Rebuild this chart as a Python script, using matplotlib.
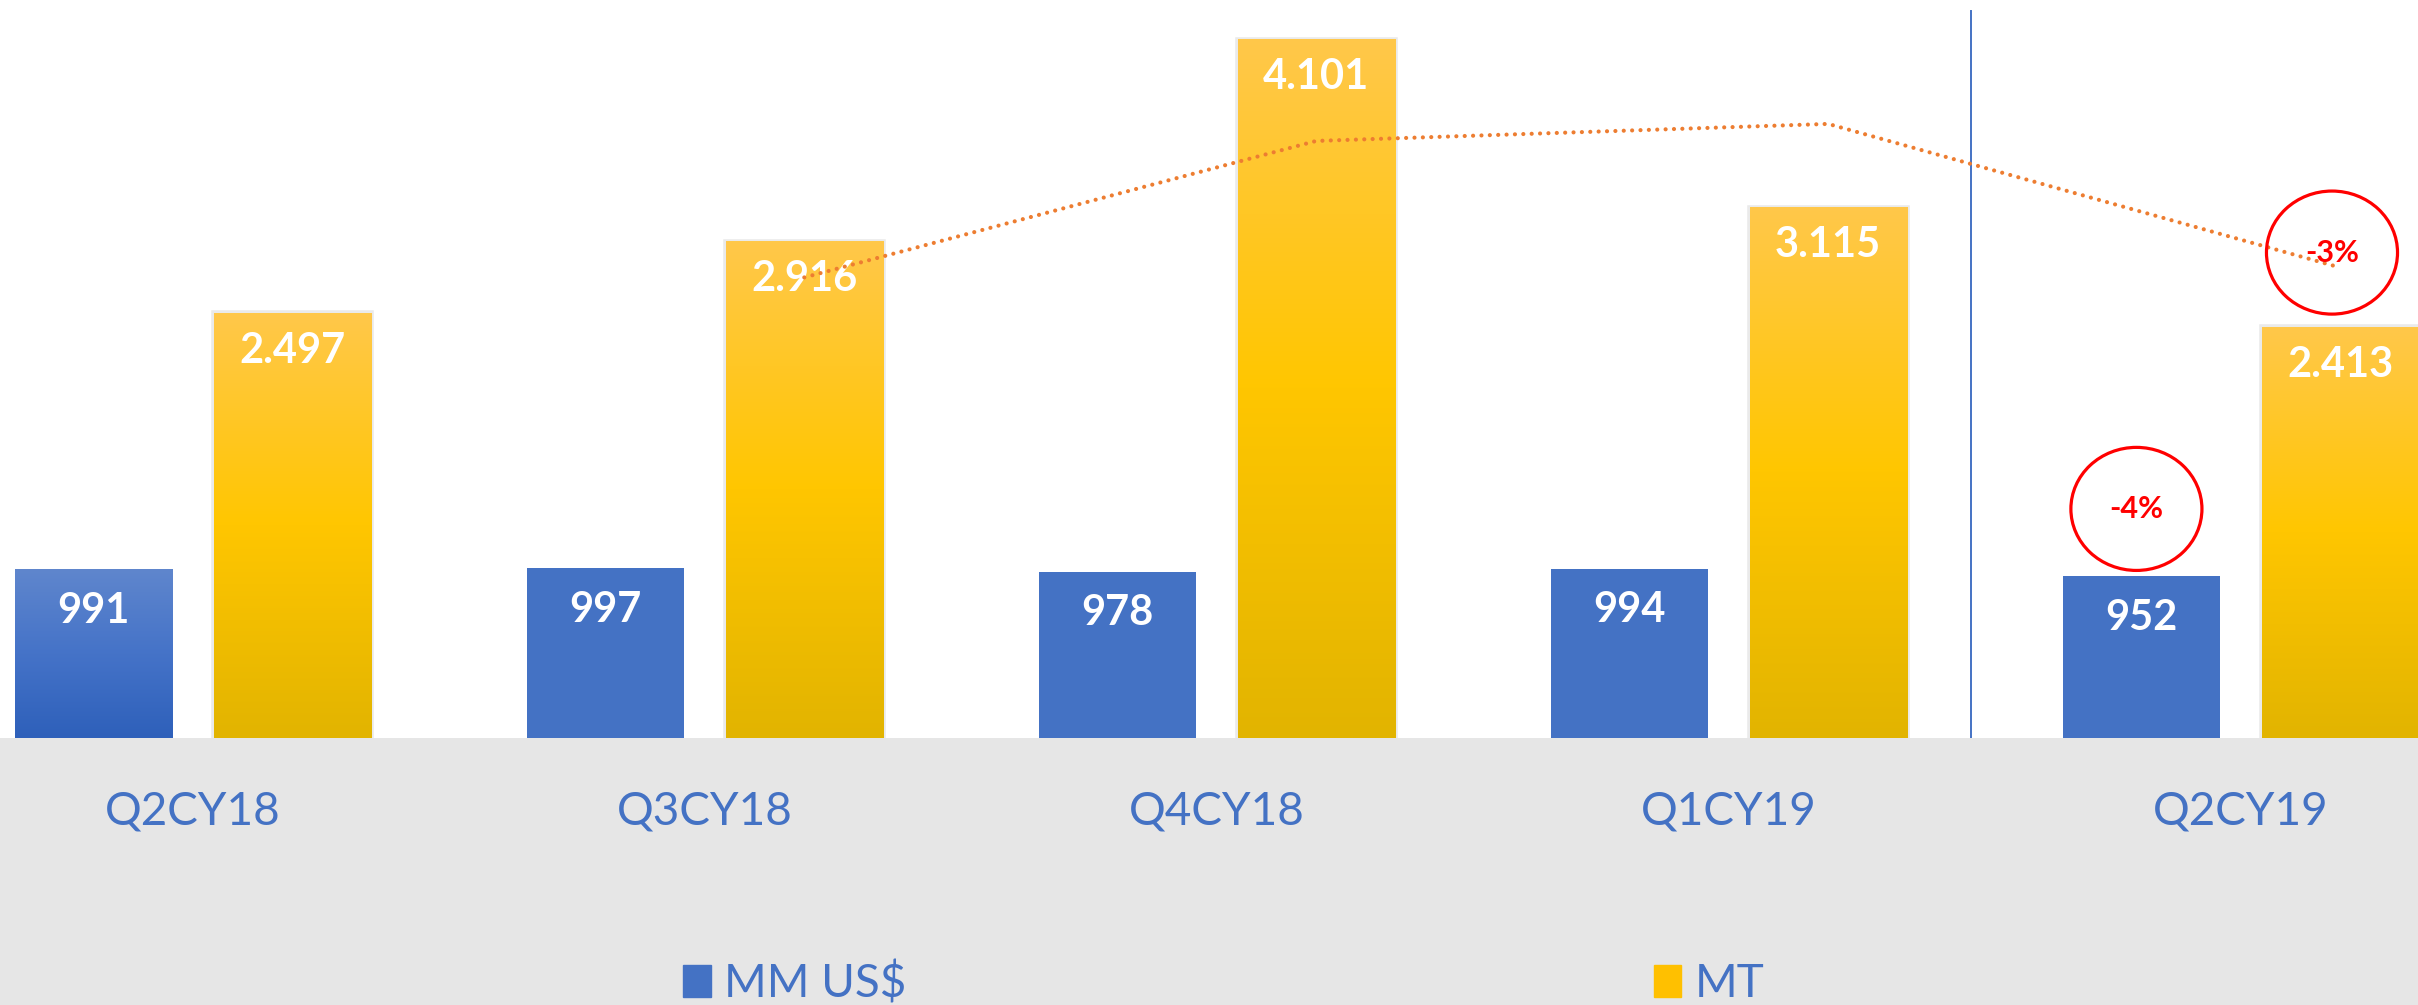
import matplotlib
matplotlib.use("Agg")
import matplotlib.pyplot as plt
import numpy as np
from matplotlib.patches import Ellipse, Patch
from matplotlib.colors import LinearSegmentedColormap
import matplotlib.patheffects as pe

plt.rcParams['font.family'] = ['Lato', 'DejaVu Sans']

# data
categories = ['Q2CY18', 'Q3CY18', 'Q4CY18', 'Q1CY19', 'Q2CY19']
mm_usd = [991, 997, 978, 994, 952]
mt = [2497, 2916, 4101, 3115, 2413]
mt_trend = [2706, 3508, 3608, 2764]   # dotted trend, Q3CY18..Q2CY19
pct_mm = '-4%'
pct_mt = '-3%'

BLUE = '#4472C4'
GOLD = '#FFC000'
GRAY = '#E6E6E6'

fig = plt.figure(figsize=(24.18, 10.05), dpi=100, facecolor=GRAY)
ax = fig.add_axes([0, 267 / 1005, 1, 738 / 1005])
ax.set_facecolor('white')

x = np.arange(len(categories))
w = 0.307
off = 0.194
xlim = (-0.377, 4.346)
ylim = (0, 4336)

blue_bars = ax.bar(x - off, mm_usd, width=w, color=BLUE, zorder=2)
gold_bars = ax.bar(x + off, mt, width=w, color=GOLD, zorder=2)


def gradient(rect, colors):
    cmap = LinearSegmentedColormap.from_list('g', colors)
    x0, y0 = rect.get_xy()
    vals = np.linspace(0, 1, 256)[:, None]
    ax.imshow(vals, extent=(x0, x0 + rect.get_width(), y0, y0 + rect.get_height()),
              origin='lower', aspect='auto', cmap=cmap, zorder=2.1)


# first blue bar has a gradient fill, gold bars all do
gradient(blue_bars[0], ['#2E60BA', '#4573C8', '#5F86CD'])
for r in gold_bars:
    r.set_path_effects([pe.Stroke(linewidth=4, foreground='#A0A0A0', alpha=0.22), pe.Normal()])
    gradient(r, ['#E2B400', '#FFC600', '#FFC84A'])

# value labels
for xi, v in zip(x - off, mm_usd):
    ax.annotate(str(v), (xi, v), xytext=(0, -30), textcoords='offset points',
                ha='center', va='center', color='white', fontsize=30,
                fontweight='bold', zorder=3)
for xi, v in zip(x + off, mt):
    ax.annotate(f"{v:,}".replace(',', '.'), (xi, v), xytext=(0, -27),
                textcoords='offset points', ha='center', va='center',
                color='white', fontsize=30, fontweight='bold', zorder=3)

# dotted trend line
ax.plot(x[1:] + off, mt_trend, color='#ED7D31', lw=3,
        linestyle=(0, (0.01, 2.0)), dash_capstyle='round', zorder=4)

# separator before the last quarter
sep = 3.473
ax.plot([sep, sep], [0, 4271], color=BLUE, lw=1.4, zorder=1)

# red circled changes
ex, ey = x[-1] - off - 0.01, mm_usd[-1] + 394
ax.add_patch(Ellipse((ex, ey), 0.256, 723, fill=False, edgecolor='red', lw=2.3, zorder=5))
ax.text(ex, ey, pct_mm, color='red', fontsize=22, fontweight='bold',
        ha='center', va='center', zorder=5)
ex, ey = x[-1] + off - 0.016, mt_trend[-1] + 88
ax.add_patch(Ellipse((ex, ey), 0.256, 723, fill=False, edgecolor='red', lw=2.3, zorder=5))
ax.text(ex, ey, pct_mt, color='red', fontsize=22, fontweight='bold',
        ha='center', va='center', zorder=5)

ax.set_xlim(*xlim)
ax.set_ylim(*ylim)
ax.set_xticks(x, categories)
ax.tick_params(axis='x', length=0, pad=62, labelsize=33, labelcolor=BLUE)
for lab in ax.get_xticklabels():
    lab.set_verticalalignment('baseline')
ax.set_yticks([])
for s in ax.spines.values():
    s.set_visible(False)

fig.legend(handles=[Patch(color=BLUE), Patch(color=GOLD)],
           labels=[r'MM US\$', 'MT'], loc='lower left',
           bbox_to_anchor=(683 / 2418, 0.0), ncol=2, frameon=False,
           fontsize=33, handlelength=0.6, handleheight=0.67, handletextpad=0.3,
           columnspacing=16.3, borderpad=0, borderaxespad=0, labelcolor=BLUE)

fig.savefig('out.png', dpi=100, facecolor=GRAY)
